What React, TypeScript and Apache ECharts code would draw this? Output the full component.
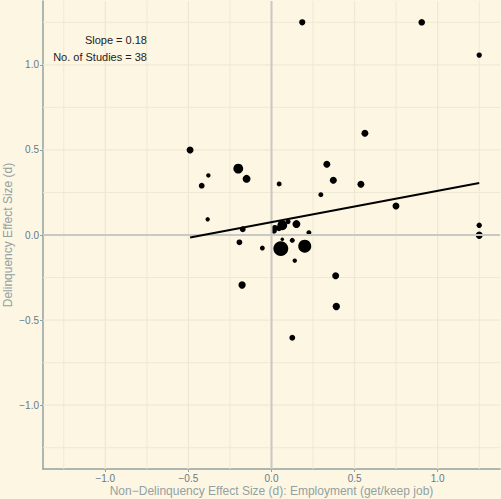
import React, { useEffect, useRef } from "react";
import * as echarts from "echarts";

// Study-level effect sizes (x: non-delinquency / employment, y: delinquency)
const studyX = [
  -0.49, -0.42, -0.38, -0.2, -0.15, 0.046, 0.333, 0.562, 0.372, 0.297,
  0.538, 0.749, 0.185, 0.904, 1.25, 1.25, 1.25, 0.386, 0.39, 0.125,
  -0.177, 0.14, -0.384, -0.173, -0.193, -0.055, 0.02, 0.065, 0.1, 0.15,
  0.225, 0.056, 0.2, 0.125, 0.065, 0.015, 1.25, 0.045,
];
const studyY = [
  0.5, 0.29, 0.35, 0.39, 0.33, 0.3, 0.416, 0.598, 0.322, 0.237,
  0.298, 0.171, 1.25, 1.25, 1.057, 0.057, 0.0, -0.239, -0.42, -0.604,
  -0.294, -0.151, 0.092, 0.034, -0.043, -0.077, 0.042, 0.057, 0.078, 0.064,
  0.014, -0.08, -0.066, -0.031, -0.025, 0.025, -0.005, 0.04,
];
const studyWeight = [
  10, 7, 4, 20, 13, 5, 10, 10, 10, 5,
  10, 10, 8, 9, 6, 6, 10, 10, 11, 7,
  11, 4, 4, 7, 7, 5, 7, 20, 5, 13,
  5, 46, 35, 5, 2.5, 7, 8, 7,
];

// Fitted meta-regression line
const fitX = [-0.49, 1.25];
const fitY = [-0.015, 0.306];

const tickValues = [-1, -0.5, 0, 0.5, 1];
const minorGrid = [-1.25, -0.75, -0.25, 0.25, 0.75, 1.25];
const referenceValues = [0];
const annotations = ["Slope = 0.18", "No. of Studies = 38"];

const xTitle = "Non\u2212Delinquency Effect Size (d): Employment (get/keep job)";
const yTitle = "Delinquency Effect Size (d)";

const FONT = '"Liberation Sans", Arial, Helvetica, sans-serif';
const BG = "#fdf6e3";
const GRID = "#eee8d5";

const fmt = (v: number) => v.toFixed(1).replace("-", "\u2212");

// [value, orientation(0 = vertical, 1 = horizontal)]
const linesFor = (vals: number[]) => [
  ...vals.map((v) => [v, 0]),
  ...vals.map((v) => [v, 1]),
];

const lineRenderer = (color: string, width: number) => (params: any, api: any) => {
  const cs = params.coordSys;
  const v = api.value(0);
  const o = api.value(1);
  if (o === 0) {
    const p = api.coord([v, 0]);
    return {
      type: "line",
      shape: { x1: p[0], y1: cs.y, x2: p[0], y2: cs.y + cs.height },
      style: { stroke: color, lineWidth: width },
      silent: true,
    };
  }
  const p = api.coord([0, v]);
  return {
    type: "line",
    shape: { x1: cs.x, y1: p[1], x2: cs.x + cs.width, y2: p[1] },
    style: { stroke: color, lineWidth: width },
    silent: true,
  };
};

export default function App() {
  const ref = useRef<HTMLDivElement>(null);

  useEffect(() => {
    if (!ref.current) return;
    const chart = echarts.init(ref.current, undefined, { renderer: "svg" });

    const axisCommon = (name: string, isY: boolean) => ({
      type: "value",
      min: -1.375,
      max: 1.375,
      name,
      nameLocation: "middle",
      nameGap: isY ? 29 : 16,
      nameMoveOverlap: false,
      nameTextStyle: { color: "#93a1a1", fontSize: 12, fontFamily: FONT },
      axisLine: { show: true, onZero: false, lineStyle: { color: "#93a1a1", width: 1.5 } },
      axisTick: {
        show: true,
        length: 3,
        customValues: tickValues,
        lineStyle: { color: "#93a1a1", width: 1 },
      },
      axisLabel: {
        show: true,
        customValues: tickValues,
        formatter: (v: number) => fmt(v),
        color: "#657b83",
        fontSize: 10,
        fontFamily: FONT,
        margin: 4,
      },
      splitLine: { show: false },
    });

    const fitData = fitX.map((x, i) => [x, fitY[i]]);

    chart.setOption({
      animation: false,
      backgroundColor: BG,
      grid: {
        left: 43,
        right: 1,
        top: 1,
        bottom: 30,
        containLabel: false,
        outerBoundsMode: "none",
      },
      xAxis: axisCommon(xTitle, false),
      yAxis: axisCommon(yTitle, true),
      series: [
        {
          type: "custom",
          z: 1,
          silent: true,
          clip: true,
          data: linesFor(minorGrid),
          renderItem: lineRenderer(GRID, 1),
        },
        {
          type: "custom",
          z: 1,
          silent: true,
          clip: true,
          data: linesFor(tickValues),
          renderItem: lineRenderer(GRID, 1.3),
        },
        {
          type: "scatter",
          z: 2,
          silent: true,
          data: studyX.map((x, i) => [x, studyY[i], studyWeight[i]]),
          symbolSize: (d: number[]) => 2.2 * Math.sqrt(d[2]),
          itemStyle: { color: "#000000", opacity: 1 },
        },
        {
          type: "custom",
          z: 3,
          silent: true,
          clip: true,
          data: linesFor(referenceValues),
          renderItem: lineRenderer("#c9c9c4", 2),
        },
        {
          type: "line",
          z: 4,
          data: fitData,
          showSymbol: false,
          silent: true,
          lineStyle: { color: "#000000", width: 2 },
        },
      ],
      graphic: annotations.map((t, i) => ({
        type: "text",
        x: 147,
        y: 40 + i * 17,
        z: 10,
        silent: true,
        style: {
          text: t,
          align: "right",
          verticalAlign: "middle",
          fill: "#222222",
          font: `11px ${FONT}`,
        },
      })),
    });

    return () => chart.dispose();
  }, []);

  return (
    <div
      ref={ref}
      style={{
        position: "fixed",
        left: 0,
        top: 0,
        width: 501,
        height: 499,
        background: BG,
      }}
    />
  );
}
